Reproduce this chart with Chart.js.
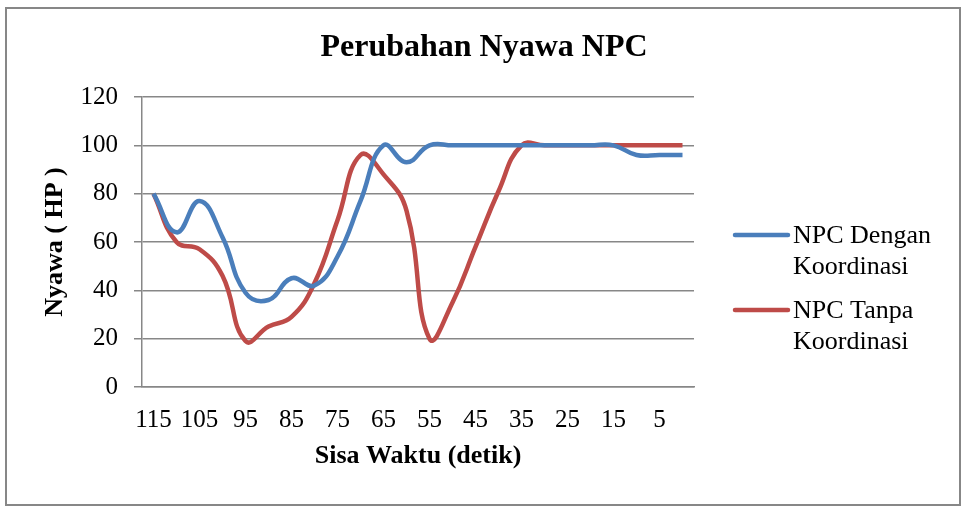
<!DOCTYPE html>
<html>
<head>
<meta charset="utf-8">
<title>Perubahan Nyawa NPC</title>
<script src="https://cdn.jsdelivr.net/npm/chart.js@4.4.0/dist/chart.umd.min.js"></script>
<style>
  html, body { margin: 0; padding: 0; background: #fff; }
  #wrap { width: 961px; height: 507px; }
</style>
</head>
<body>
<div id="wrap"><canvas id="npcChart" width="961" height="507"></canvas></div>
<script>
// Sisa waktu (detik) and HP for each NPC variant
const sisaWaktu = [115, 110, 105, 100, 95, 90, 85, 80, 75, 70, 65, 60, 55, 50, 45, 40, 35, 30, 25, 20, 15, 10, 5, 0];
const denganKoordinasi = [80, 64, 77, 62, 39, 36, 45, 42, 54, 77, 100, 93, 100, 100, 100, 100, 100, 100, 100, 100, 100, 96, 96, 96];
const tanpaKoordinasi = [80, 60, 57, 46, 19, 25, 29, 43, 69, 96, 88, 73, 20, 35, 58, 81, 100, 100, 100, 100, 100, 100, 100, 100];
const legendDengan = ['NPC Dengan', 'Koordinasi'];
const legendTanpa = ['NPC Tanpa', 'Koordinasi'];
const chartTitle = 'Perubahan Nyawa NPC';

const SERIF = '"Liberation Serif", "Times New Roman", serif';
const GRID = '#878787';

// outer frame around the whole chart + title across the full width
const frame = {
  id: 'frame',
  beforeDraw(chart) {
    const c = chart.ctx;
    c.save();
    c.fillStyle = '#fff';
    c.fillRect(0, 0, chart.width, chart.height);
    c.strokeStyle = GRID;
    c.lineWidth = 2;
    c.strokeRect(6, 8, 954, 497);
    c.fillStyle = '#000';
    c.font = 'bold 32px ' + SERIF;
    c.textAlign = 'center';
    c.textBaseline = 'middle';
    c.fillText(chartTitle, 484, 48);
    c.restore();
  }
};

// legend on the right with wrapped labels
const sideLegend = {
  id: 'sideLegend',
  afterDraw(chart) {
    const c = chart.ctx;
    const x0 = chart.chartArea.right + 41;
    c.save();
    c.font = '26px ' + SERIF;
    c.textBaseline = 'middle';
    c.fillStyle = '#000';
    chart.data.datasets.forEach((ds, i) => {
      const y = 235 + i * 75;
      c.strokeStyle = ds.borderColor;
      c.lineWidth = 4.5;
      c.lineCap = 'round';
      c.beginPath();
      c.moveTo(x0, y);
      c.lineTo(x0 + 53, y);
      c.stroke();
      ds.legendText.forEach((t, j) => c.fillText(t, x0 + 58, y + 1 + j * 31));
    });
    c.restore();
  }
};

new Chart(document.getElementById('npcChart'), {
  type: 'line',
  data: {
    labels: sisaWaktu,
    datasets: [{
      label: 'NPC Dengan Koordinasi',
      legendText: legendDengan,
      data: denganKoordinasi,
      borderColor: '#4A7EBB',
      borderWidth: 4.5,
      tension: 0.45,
      pointRadius: 0,
      fill: false
    }, {
      label: 'NPC Tanpa Koordinasi',
      legendText: legendTanpa,
      data: tanpaKoordinasi,
      borderColor: '#BE4B48',
      borderWidth: 4.5,
      tension: 0.45,
      pointRadius: 0,
      fill: false
    }]
  },
  options: {
    responsive: false,
    animation: false,
    layout: { padding: { top: 97, right: 267, bottom: 0, left: 0 } },
    plugins: {
      legend: { display: false },
      tooltip: { enabled: false },
      title: { display: false }
    },
    scales: {
      x: {
        offset: true,
        afterFit(scale) { scale.height = 120; },
        grid: { display: false, drawTicks: false },
        border: { display: true, color: GRID, width: 1.5 },
        ticks: {
          autoSkip: false,
          maxRotation: 0,
          padding: 18,
          color: '#000',
          font: { family: SERIF, size: 25 },
          callback: (v, i) => (i % 2 === 0 ? sisaWaktu[i] : '')
        },
        title: {
          display: true,
          text: 'Sisa Waktu (detik)',
          color: '#000',
          font: { family: SERIF, size: 26, weight: 'bold' },
          padding: { top: 0, bottom: 35 }
        }
      },
      y: {
        min: 0,
        max: 120,
        afterFit(scale) { scale.width = 142; },
        grid: { color: GRID, lineWidth: 1.5, tickLength: 8, tickColor: GRID },
        border: { display: true, color: GRID, width: 1.5 },
        ticks: {
          stepSize: 20,
          padding: 16,
          color: '#000',
          font: { family: SERIF, size: 25 }
        },
        title: {
          display: true,
          text: 'Nyawa ( HP )',
          color: '#000',
          font: { family: SERIF, size: 26, weight: 'bold' },
          padding: { top: 40, bottom: 0 }
        }
      }
    }
  },
  plugins: [frame, sideLegend]
});
</script>
</body>
</html>
